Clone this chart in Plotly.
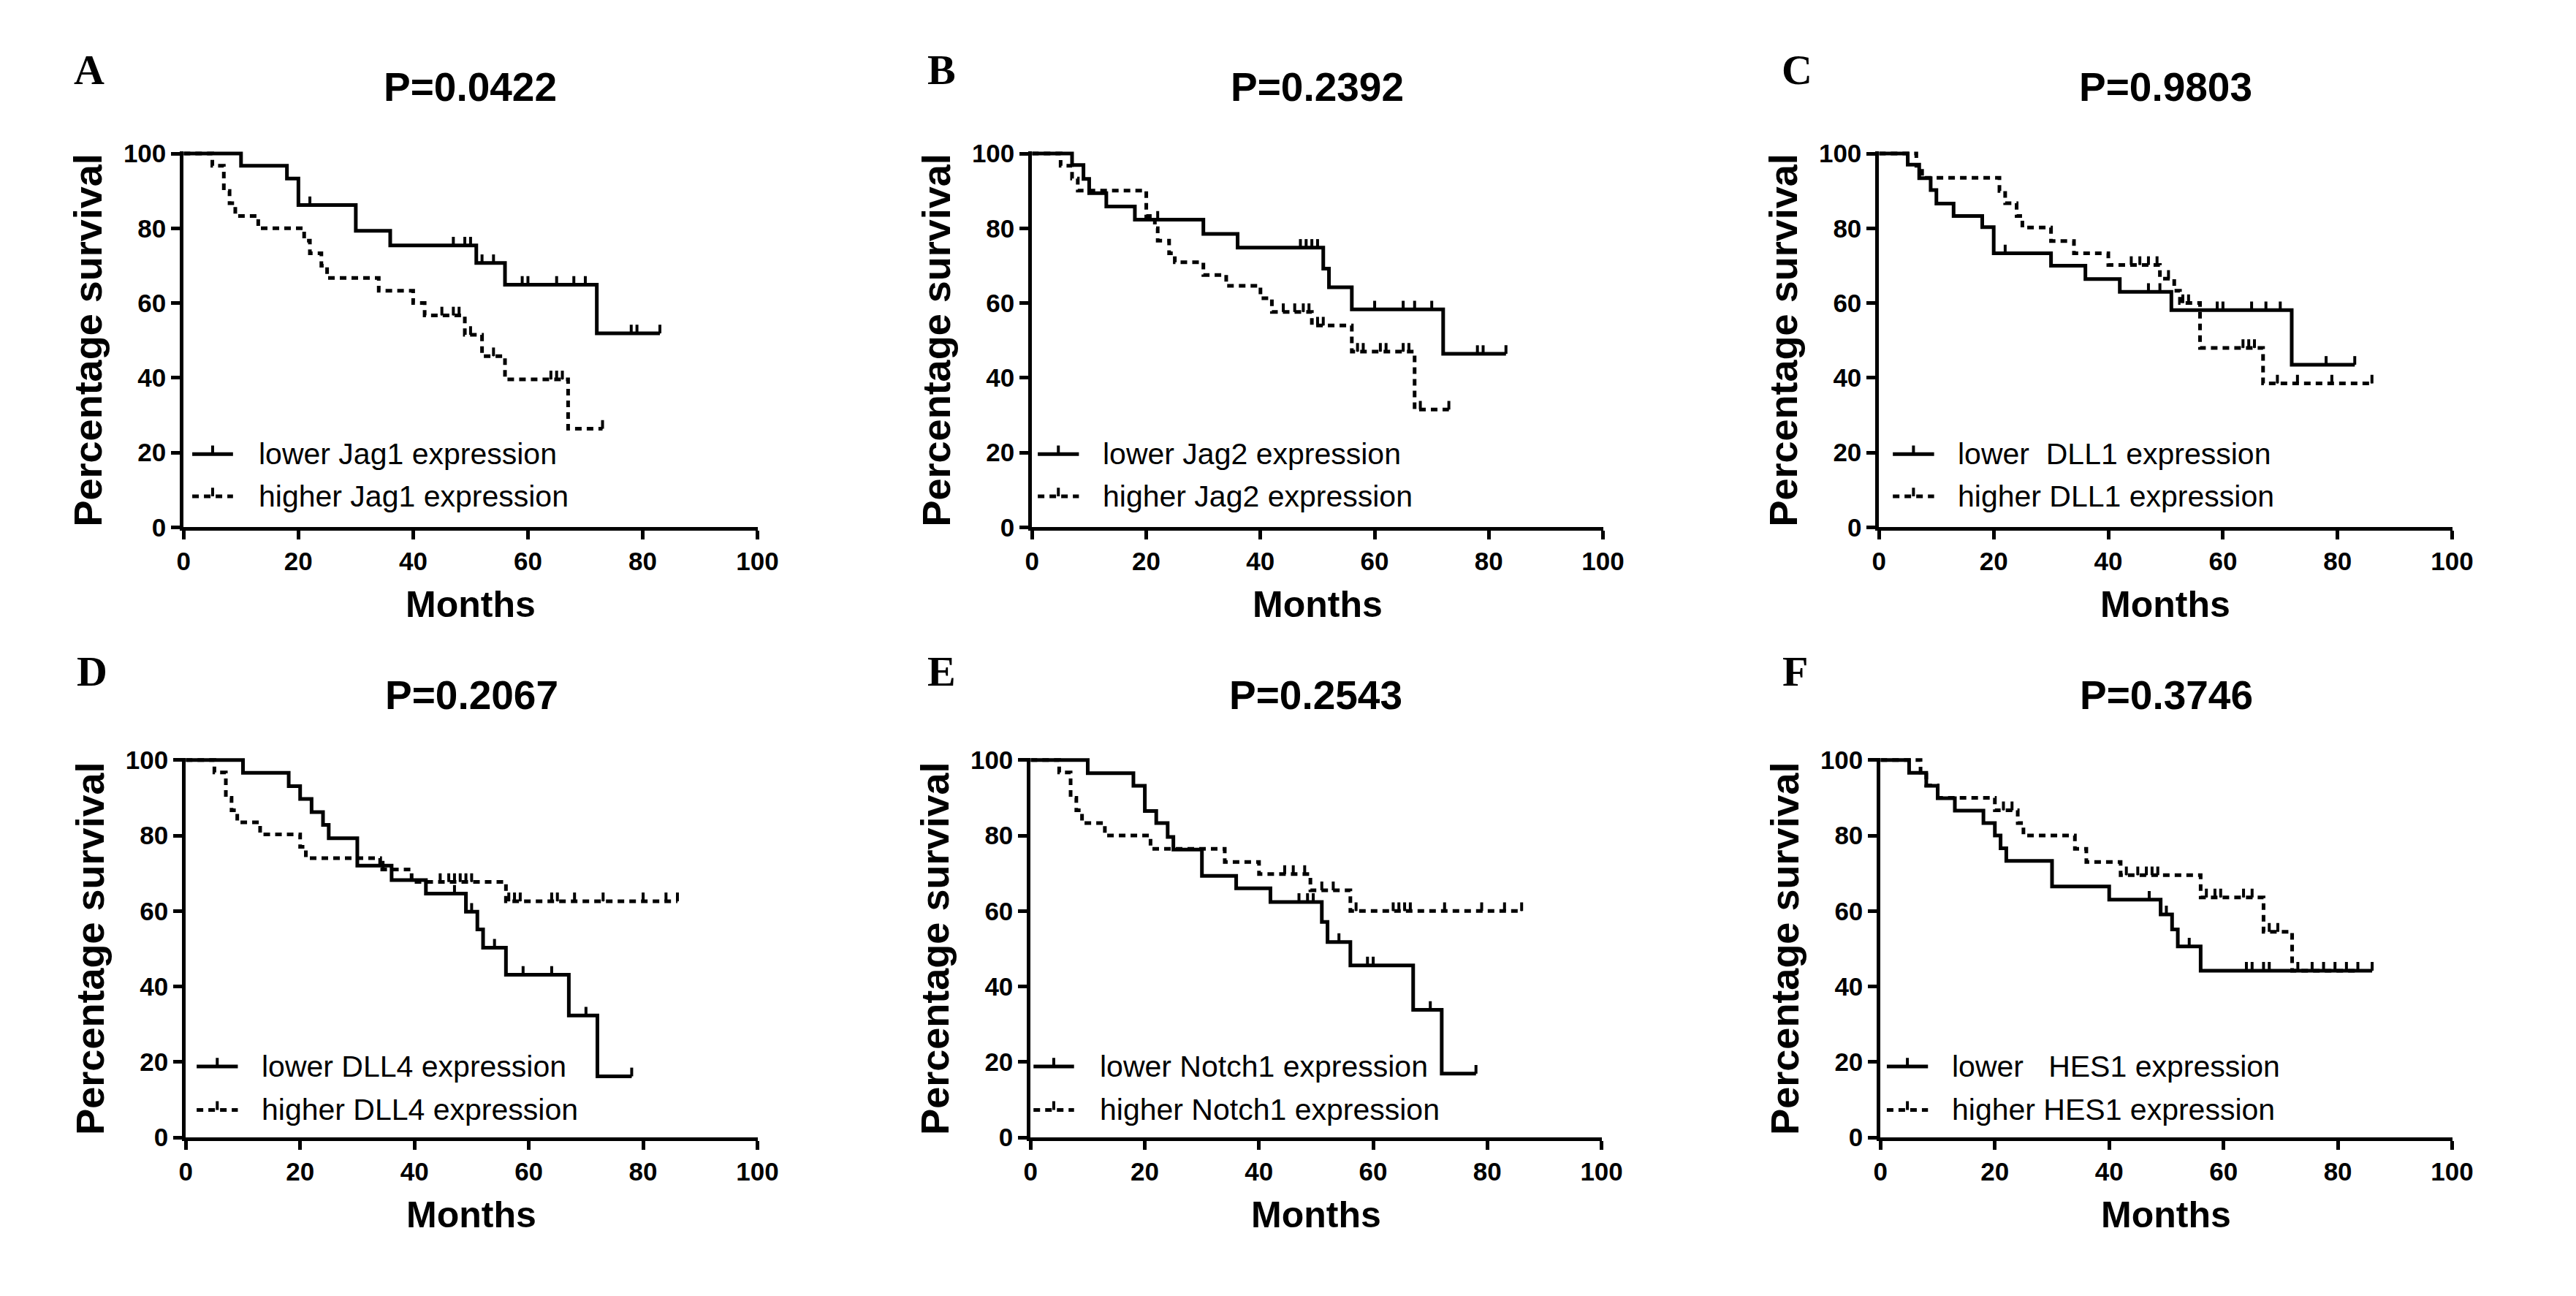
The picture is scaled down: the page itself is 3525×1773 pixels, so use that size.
import plotly.graph_objects as go

W, H = 3525, 1773
SANS = "Liberation Sans, Arial, sans-serif"
SERIF = "Liberation Serif, Times New Roman, serif"

# ---------------- text ----------------
letters = ["A", "B", "C", "D", "E", "F"]
p_texts = ["P=0.0422", "P=0.2392", "P=0.9803", "P=0.2067", "P=0.2543", "P=0.3746"]
low_labels = ["lower Jag1 expression", "lower Jag2 expression", "lower\u00a0 DLL1 expression",
              "lower DLL4 expression", "lower Notch1 expression", "lower\u00a0\u00a0 HES1 expression"]
high_labels = ["higher Jag1 expression", "higher Jag2 expression", "higher DLL1 expression",
               "higher DLL4 expression", "higher Notch1 expression", "higher HES1 expression"]
x_title = "Months"
y_title = "Percentage survival"
x_ticks = [0, 20, 40, 60, 80, 100]
y_ticks = [0, 20, 40, 60, 80, 100]

# ---------------- data (months, % survival) ----------------
A_low_t = [0, 10, 18, 20, 30, 36, 51, 56, 72]
A_low_s = [100, 96.7, 93.3, 86.2, 79.3, 75.4, 70.7, 64.9, 51.9]
A_low_end = 83
A_low_c = [22, 47, 49, 50, 52, 54, 59, 60, 65, 68, 70, 78, 79, 83]
A_high_t = [0, 5, 7, 8, 9, 13, 21, 22, 24, 25, 34, 40, 42, 49, 52, 56, 67]
A_high_s = [100, 96.7, 90.0, 86.7, 83.3, 80.0, 76.7, 73.3, 70.0, 66.7, 63.3, 60.0, 56.7, 51.5, 45.8, 39.6, 26.4]
A_high_end = 73
A_high_c = [45, 47, 48, 50, 54, 64, 65, 66, 73]

B_low_t = [0, 7, 9, 10, 13, 18, 30, 36, 51, 52, 56, 72]
B_low_s = [100, 96.9, 93.2, 89.4, 85.8, 82.3, 78.5, 74.8, 69.2, 64.2, 58.3, 46.4]
B_low_end = 83
B_low_c = [22, 47, 48, 49, 50, 60, 65, 67, 70, 78, 79, 83]
B_high_t = [0, 5, 7, 8, 20, 21.5, 22, 24, 25, 30, 34, 40, 42, 49, 56, 67]
B_high_s = [100, 96.7, 93.3, 90.1, 83.3, 80.0, 76.7, 73.3, 70.9, 67.5, 64.6, 61.3, 57.6, 54.0, 47.0, 31.5]
B_high_end = 73
B_high_c = [44, 46, 47.5, 48.5, 50, 51, 57, 58, 61, 62, 65, 66, 68, 73]

C_low_t = [0, 5, 7, 9, 10, 13, 18, 20, 30, 36, 42, 51, 72]
C_low_s = [100, 97.0, 93.4, 90.2, 86.6, 83.3, 80.3, 73.3, 70.0, 66.4, 63.0, 58.1, 43.5]
C_low_end = 83
C_low_c = [22, 47, 49, 59, 60, 65, 67.5, 70, 78, 83]
C_high_t = [0, 6.5, 7.5, 21, 22, 24, 25, 30, 34, 40, 49, 51.5, 52.5, 56, 67]
C_high_s = [100, 96.7, 93.5, 90.0, 86.7, 83.3, 80.2, 76.6, 73.3, 70.2, 66.5, 63.3, 60.0, 48.0, 38.5]
C_high_end = 86
C_high_c = [44, 45.5, 47, 48.5, 50.5, 53, 54, 63.5, 64.5, 65.5, 69.5, 73, 79, 86]

D_low_t = [0, 10, 18, 20, 22, 24, 25, 30, 36, 42, 49, 51, 52, 56, 67, 72]
D_low_s = [100, 96.6, 93.1, 89.7, 86.2, 82.8, 79.3, 72.0, 68.2, 64.6, 59.8, 55.1, 50.3, 43.1, 32.3, 16.2]
D_low_end = 78
D_low_c = [47, 50, 54, 59, 64, 70, 78]
D_high_t = [0, 5, 7, 8, 9, 13, 20, 21, 34, 39.5, 56]
D_high_s = [100, 96.7, 90.0, 86.7, 83.5, 80.3, 77.0, 74.0, 71.0, 67.7, 62.6]
D_high_end = 86
D_high_c = [34.5, 44.5, 46, 47, 48, 49, 50, 56.5, 57.5, 58.5, 64, 65, 68, 73, 80, 84, 86]

E_low_t = [0, 10, 18, 20, 22, 24, 25, 30, 36, 42, 51, 52, 56, 67, 72]
E_low_s = [100, 96.5, 93.2, 86.5, 83.3, 79.6, 76.3, 69.3, 66.0, 62.4, 57.1, 51.8, 45.6, 33.8, 16.9]
E_low_end = 78
E_low_c = [47, 48.5, 49.5, 54, 59, 60, 70, 78]
E_high_t = [0, 5, 7, 8, 9, 13, 21, 34, 40, 49, 56]
E_high_s = [100, 96.7, 90.0, 86.7, 83.3, 80.0, 76.5, 73.0, 69.8, 65.5, 60.0]
E_high_end = 86
E_high_c = [44.5, 46, 48, 51, 53, 57, 63.5, 64.5, 65.5, 66.5, 72.5, 79, 83, 86]

F_low_t = [0, 5, 8, 10, 13, 18, 20, 21, 22, 30, 40, 49, 51, 52, 56]
F_low_s = [100, 96.6, 93.2, 89.9, 86.6, 83.3, 80.0, 76.6, 73.3, 66.5, 63.0, 59.1, 55.1, 50.6, 44.2]
F_low_end = 86
F_low_c = [47, 50, 54, 64, 65, 67, 68, 86]
F_high_t = [0, 7, 8, 10, 20, 24, 25, 34, 36, 42, 56, 67, 72]
F_high_s = [100, 96.7, 93.3, 90.0, 86.7, 83.3, 80.0, 76.5, 73.0, 69.5, 63.6, 54.5, 44.2]
F_high_end = 83.5
F_high_c = [21.5, 23, 43, 45, 46.5, 47.5, 48.5, 57, 58.5, 59.5, 63.5, 65, 68, 69.5, 73, 75.5, 77.5, 79.5, 81.5, 83.5]

panels = [
    ((A_low_t, A_low_s, A_low_end, A_low_c), (A_high_t, A_high_s, A_high_end, A_high_c)),
    ((B_low_t, B_low_s, B_low_end, B_low_c), (B_high_t, B_high_s, B_high_end, B_high_c)),
    ((C_low_t, C_low_s, C_low_end, C_low_c), (C_high_t, C_high_s, C_high_end, C_high_c)),
    ((D_low_t, D_low_s, D_low_end, D_low_c), (D_high_t, D_high_s, D_high_end, D_high_c)),
    ((E_low_t, E_low_s, E_low_end, E_low_c), (E_high_t, E_high_s, E_high_end, E_high_c)),
    ((F_low_t, F_low_s, F_low_end, F_low_c), (F_high_t, F_high_s, F_high_end, F_high_c)),
]

# ---------------- geometry (pixels) ----------------
PX0 = [244, 1418, 2590, 247, 1416, 2592]
PX100 = [1038, 2208, 3383, 1038, 2206, 3383]
PY0 = [719, 719, 719, 1571, 1571, 1571]
PY100 = [197, 197, 197, 1044, 1044, 1044]
TITLE_GAP = [93, 93, 93, 91, 91, 91]
MONTHS_GAP = 108
YLAB_GAP = 133
YTOP = 100.6
LETTER_POS = [(113, 80), (1293, 80), (2476, 80), (117, 920), (1293, 920), (2474, 920)]
# legend: sample x0, x1, text x (months) ; row1 y, row2 y (%)
LEG = [(1.5, 8.6, 12.8, 19.6, 8.3), (1.0, 8.2, 12.1, 19.6, 8.3), (2.4, 9.6, 13.5, 19.6, 8.3),
       (1.9, 9.1, 13.0, 18.8, 7.3), (0.5, 7.6, 11.8, 18.8, 7.3), (1.1, 8.3, 12.2, 18.8, 7.3)]
TICK = 2.3
LW = 5
DASH = "9px,7px"


def level_at(t, times, surv):
    v = surv[0]
    for ti, si in zip(times, surv):
        if ti <= t:
            v = si
    return v


fig = go.Figure()
annotations = []
shapes = []
layout = dict(width=W, height=H, margin=dict(l=0, r=0, t=0, b=0),
              paper_bgcolor="white", plot_bgcolor="white", showlegend=False)

for i, (low, high) in enumerate(panels):
    k = "" if i == 0 else str(i + 1)
    xa, ya = "x" + k, "y" + k
    x0p, x1p, y0p, y1p = PX0[i], PX100[i], PY0[i], PY100[i]
    ppu = (y0p - y1p) / 100.0
    ytop_px = y1p - (YTOP - 100) * ppu
    axis_common = dict(showline=True, linecolor="black", linewidth=LW, ticks="outside",
                       ticklen=12, tickwidth=LW, tickcolor="black", showgrid=False,
                       zeroline=False, fixedrange=True,
                       tickfont=dict(family=SANS, size=35, color="black", weight="bold"))
    layout["xaxis" + k] = dict(domain=[x0p / W, x1p / W], range=[0, 100], tickvals=x_ticks,
                               anchor=ya, **axis_common)
    layout["yaxis" + k] = dict(domain=[1 - y0p / H, 1 - ytop_px / H], range=[0, YTOP],
                               tickvals=y_ticks, anchor=xa, **axis_common)

    for (t, s, end, cens), dash in ((high, DASH), (low, "solid")):
        fig.add_trace(go.Scatter(x=t + [end], y=s + [s[-1]], mode="lines", xaxis=xa, yaxis=ya,
                                 line=dict(color="black", width=LW, shape="hv", dash=dash),
                                 hoverinfo="skip"))
        cy = [level_at(c, t, s) for c in cens]
        fig.add_trace(go.Scatter(x=cens, y=cy, mode="markers", xaxis=xa, yaxis=ya,
                                 marker=dict(size=1, color="black"),
                                 error_y=dict(type="data", symmetric=False, array=[TICK] * len(cens),
                                              arrayminus=[0] * len(cens), thickness=4, width=0,
                                              color="black"),
                                 hoverinfo="skip"))

    cx = (x0p + x1p) / 2 / W
    cy_mid = 1 - (y0p + y1p) / 2 / H
    annotations.append(dict(text=p_texts[i], x=cx, y=1 - (y1p - TITLE_GAP[i]) / H, xref="paper",
                            yref="paper", showarrow=False, xanchor="center", yanchor="middle",
                            font=dict(family=SANS, size=55, color="black", weight="bold")))
    annotations.append(dict(text=x_title, x=cx, y=1 - (y0p + MONTHS_GAP) / H, xref="paper",
                            yref="paper", showarrow=False, xanchor="center", yanchor="middle",
                            font=dict(family=SANS, size=50, color="black", weight="bold")))
    annotations.append(dict(text=y_title, x=(x0p - YLAB_GAP) / W, y=cy_mid, xref="paper",
                            yref="paper", showarrow=False, xanchor="center", yanchor="middle",
                            textangle=-90,
                            font=dict(family=SANS, size=54, color="black", weight="bold")))
    lx, ly = LETTER_POS[i]
    annotations.append(dict(text=letters[i], x=lx / W, y=1 - ly / H, xref="paper", yref="paper",
                            showarrow=False, xanchor="center", yanchor="middle",
                            font=dict(family=SERIF, size=58, color="black", weight="bold")))

    sx0, sx1, tx, r1, r2 = LEG[i]
    for row_y, label, dash in ((r1, low_labels[i], "solid"), (r2, high_labels[i], DASH)):
        shapes.append(dict(type="line", xref=xa, yref=ya, x0=sx0, x1=sx1, y0=row_y, y1=row_y,
                           line=dict(color="black", width=LW, dash=dash)))
        xm = (sx0 + sx1) / 2
        shapes.append(dict(type="line", xref=xa, yref=ya, x0=xm, x1=xm, y0=row_y, y1=row_y + TICK,
                           line=dict(color="black", width=4)))
        annotations.append(dict(text=label, x=tx, y=row_y, xref=xa, yref=ya, showarrow=False,
                                xanchor="left", yanchor="middle",
                                font=dict(family=SANS, size=41, color="black")))

layout["annotations"] = annotations
layout["shapes"] = shapes
fig.update_layout(**layout)
fig.write_html("out.html", config={"displayModeBar": False, "staticPlot": True},
               post_script="document.body.style.margin='0px';document.body.style.overflow='hidden';")
